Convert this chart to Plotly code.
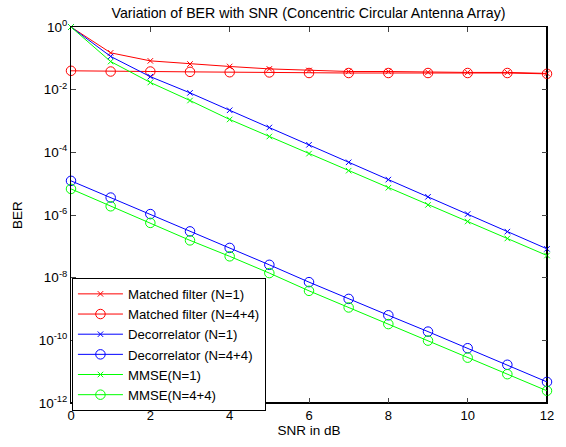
import plotly.graph_objects as go

snr = list(range(0, 13))

mf_n1 = [1.0, 1.5e-1, 8.3e-2, 6.6e-2, 5.5e-2, 4.6e-2, 4.1e-2, 3.8e-2, 3.8e-2, 3.6e-2, 3.55e-2, 3.55e-2, 3.3e-2]
mf_n44 = [4.0e-2, 3.8e-2, 3.8e-2, 3.7e-2, 3.6e-2, 3.55e-2, 3.4e-2, 3.4e-2, 3.4e-2, 3.4e-2, 3.4e-2, 3.4e-2, 3.2e-2]
dec_n1 = [1.0, 1.15e-1, 2.6e-2, 7.9e-3, 2.2e-3, 6.2e-4, 1.74e-4, 4.8e-5, 1.35e-5, 3.8e-6, 1.07e-6, 2.95e-7, 8.3e-8]
dec_n44 = [1.23e-5, 3.6e-6, 1.07e-6, 3.0e-7, 8.9e-8, 2.57e-8, 7.2e-9, 2.1e-9, 6.3e-10, 1.9e-10, 5.6e-11, 1.66e-11, 4.7e-12]
mmse_n1 = [1.0, 7.9e-2, 1.7e-2, 4.5e-3, 1.12e-3, 3.2e-4, 9.1e-5, 2.6e-5, 7.4e-6, 2.1e-6, 6.2e-7, 1.78e-7, 5.1e-8]
mmse_n44 = [6.8e-6, 1.9e-6, 5.6e-7, 1.55e-7, 4.8e-8, 1.4e-8, 3.8e-9, 1.12e-9, 3.3e-10, 9.8e-11, 2.8e-11, 8.3e-12, 2.45e-12]

names = ["Matched filter (N=1)", "Matched filter (N=4+4)", "Decorrelator (N=1)",
         "Decorrelator (N=4+4)", "MMSE(N=1)", "MMSE(N=4+4)"]
series = [mf_n1, mf_n44, dec_n1, dec_n44, mmse_n1, mmse_n44]
colors = ["#FF0000", "#FF0000", "#0000FF", "#0000FF", "#00FF00", "#00FF00"]
symbols = ["x-thin-open", "circle-open", "x-thin-open", "circle-open", "x-thin-open", "circle-open"]
sizes = [5.5, 9.5, 5.5, 9.5, 5.5, 9.5]

ytick_vals = [1e0, 1e-2, 1e-4, 1e-6, 1e-8, 1e-10, 1e-12]
ytick_text = ["10<sup>0</sup>", "10<sup>-2</sup>", "10<sup>-4</sup>", "10<sup>-6</sup>",
              "10<sup>-8</sup>", "10<sup>-10</sup>", "10<sup>-12</sup>"]
xtick_vals = [0, 2, 4, 6, 8, 10, 12]

fig = go.Figure()
for name, ys, c, s, sz in zip(names, series, colors, symbols, sizes):
    fig.add_trace(go.Scatter(
        x=snr, y=ys, name=name, mode="lines+markers",
        line=dict(color=c, width=1),
        marker=dict(symbol=s, size=sz, color=c, line=dict(color=c, width=1)),
        cliponaxis=False,
    ))

font_family = "Arial, Liberation Sans, Helvetica, sans-serif"

# heavier right and bottom frame edges, as in the reference
fig.add_shape(type="line", xref="paper", yref="paper", x0=1, x1=1, y0=0, y1=1,
              line=dict(color="black", width=2), layer="below")
fig.add_shape(type="line", xref="paper", yref="paper", x0=0, x1=1, y0=0, y1=0,
              line=dict(color="black", width=2), layer="below")

fig.update_layout(
    width=566, height=447,
    margin=dict(l=71, r=15, t=27, b=42),
    paper_bgcolor="white", plot_bgcolor="white",
    font=dict(family=font_family, size=13, color="black"),
    title=dict(text="Variation of BER with SNR (Concentric Circular Antenna Array)",
               x=0.545, xanchor="center", y=0.971, yanchor="middle",
               font=dict(size=14.2, family=font_family, color="black")),
    xaxis=dict(range=[0, 12], tickvals=xtick_vals, ticks="inside", ticklen=5,
               showline=True, linecolor="black", linewidth=1, mirror="ticks",
               showgrid=False, zeroline=False,
               title=dict(text="SNR in dB", standoff=3, font=dict(size=13.5)),
               tickfont=dict(size=13)),
    yaxis=dict(type="log", range=[-12, 0], tickvals=ytick_vals, ticktext=ytick_text,
               ticks="inside", ticklen=5,
               showline=True, linecolor="black", linewidth=1, mirror="ticks",
               showgrid=False, zeroline=False,
               title=dict(text="BER", standoff=12, font=dict(size=13.5)),
               tickfont=dict(size=13.5)),
    legend=dict(x=0.002, y=0.333, xanchor="left", yanchor="top",
                bgcolor="white", bordercolor="black", borderwidth=1,
                font=dict(size=13.2, family=font_family),
                itemwidth=45),
    showlegend=True,
)

fig.write_html("out.html")
